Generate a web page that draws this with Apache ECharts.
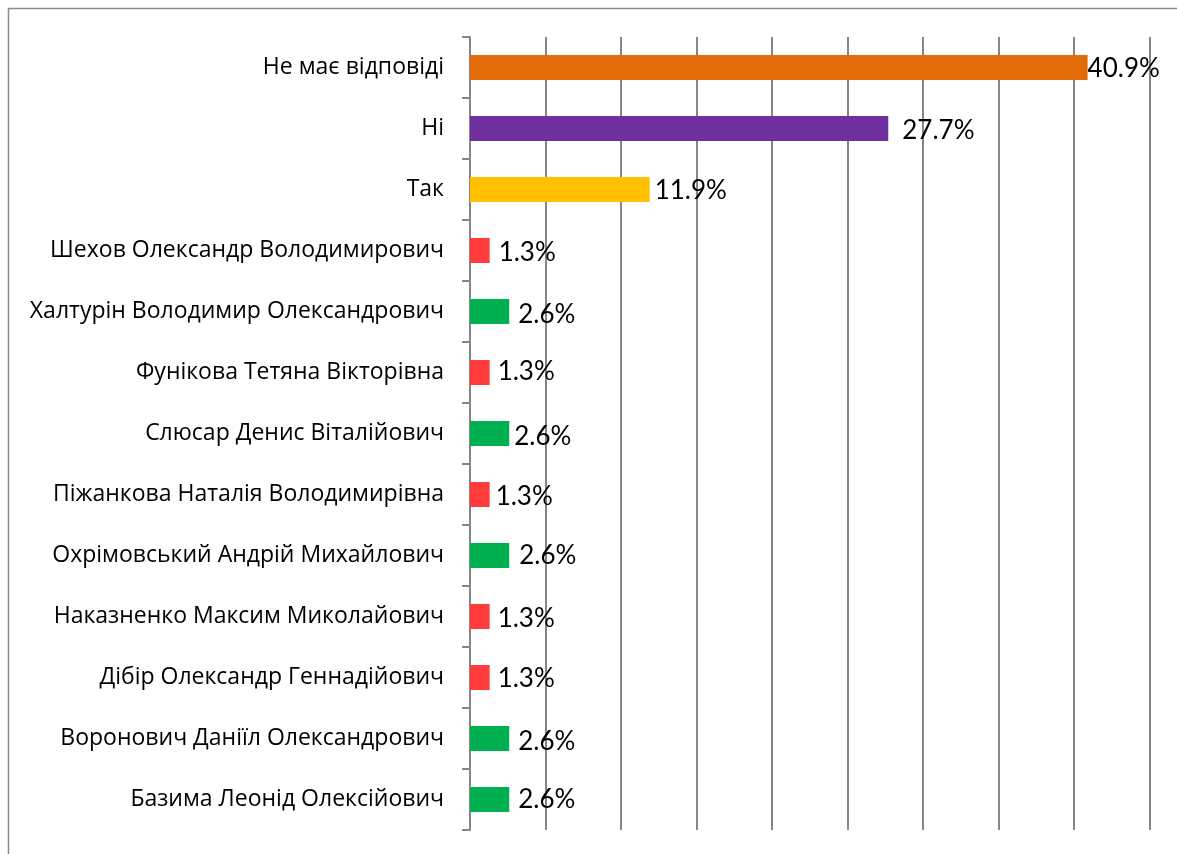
<!DOCTYPE html>
<html>
<head>
<meta charset="utf-8">
<script src="https://cdn.jsdelivr.net/npm/echarts@6/dist/echarts.min.js"></script>
<style>
html,body{margin:0;padding:0;background:#fff;}
#chart{width:1177px;height:854px;}
</style>
</head>
<body>
<div id="chart"></div>
<script>
// ---- data ----
const categories = [
  "Не має відповіді",
  "Ні",
  "Так",
  "Шехов Олександр Володимирович",
  "Халтурін Володимир Олександрович",
  "Фунікова Тетяна Вікторівна",
  "Слюсар Денис Віталійович",
  "Піжанкова Наталія Володимирівна",
  "Охрімовський Андрій Михайлович",
  "Наказненко Максим Миколайович",
  "Дібір Олександр Геннадійович",
  "Воронович Даніїл Олександрович",
  "Базима Леонід Олексійович"
];
const values = [40.9, 27.7, 11.9, 1.3, 2.6, 1.3, 2.6, 1.3, 2.6, 1.3, 1.3, 2.6, 2.6];
const axisMin = 0, axisMax = 45, axisStep = 5;

// ---- styles ----
const barColors = ["#E36C0A","#7030A0","#FFC000","#FF3B3B","#00B050","#FF3B3B","#00B050","#FF3B3B","#00B050","#FF3B3B","#FF3B3B","#00B050","#00B050"];
const labelGaps = [0, 14, 5, 9, 9, 8, 5, 6, 10, 8, 8, 9, 9];
const labelDy = [1, 2, 1, 2, 3, -1, 3, 2, 0, 2, 1, 3, 0];

const chart = echarts.init(document.getElementById('chart'));
chart.setOption({
  animation: false,
  backgroundColor: '#fff',
  grid: {left: 470, top: 37, width: 679.5, height: 793, containLabel: false},
  xAxis: {
    type: 'value', min: axisMin, max: axisMax, interval: axisStep,
    axisLine: {show: false}, axisTick: {show: false}, axisLabel: {show: false},
    splitLine: {show: true, lineStyle: {color: '#868686', width: 2}}
  },
  yAxis: {
    type: 'category', inverse: true, data: categories,
    axisLine: {show: true, lineStyle: {color: '#868686', width: 2}},
    axisTick: {show: true, length: 8, lineStyle: {color: '#868686', width: 2}},
    axisLabel: {margin: 26, color: '#000', fontFamily: 'Open Sans', fontSize: 23}
  },
  series: [{
    type: 'bar',
    barWidth: 25,
    data: values.map((v, i) => ({
      value: v,
      itemStyle: {color: barColors[i]},
      label: {distance: labelGaps[i], offset: [0, labelDy[i]]}
    })),
    label: {
      show: true, position: 'right', color: '#000',
      fontFamily: 'Lato', fontSize: 26,
      formatter: p => p.value.toFixed(1) + '%'
    }
  }],
  graphic: [{
    type: 'rect', silent: true,
    shape: {x: 8.5, y: 8.5, width: 1200, height: 900},
    style: {fill: 'none', stroke: '#8a8a8a', lineWidth: 1.5}
  }]
});
</script>
</body>
</html>
